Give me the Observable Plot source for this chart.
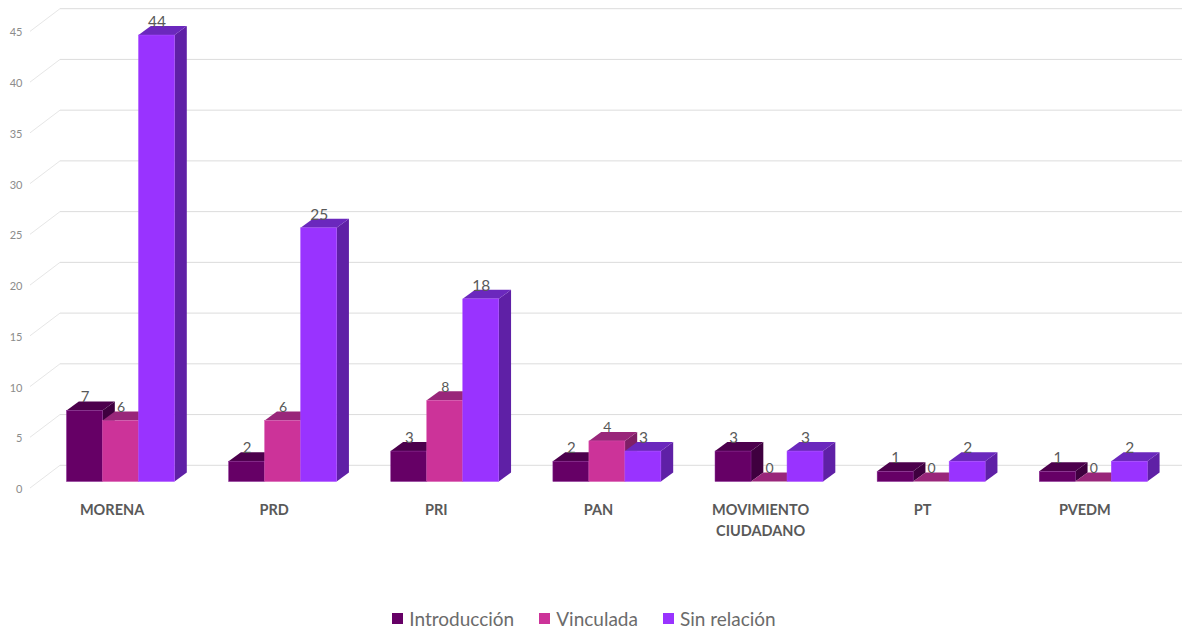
<!DOCTYPE html>
<html>
<head>
<meta charset="utf-8">
<script src="https://cdn.jsdelivr.net/npm/d3@7"></script>
<script src="https://cdn.jsdelivr.net/npm/@observablehq/plot@0.6"></script>
<style>
html,body{margin:0;padding:0;background:#fff;overflow:hidden;}
#chart svg{display:block;}
#legend{display:flex;justify-content:center;align-items:center;height:22px;margin-top:17px;margin-left:-14px;font-family:Lato,sans-serif;font-size:19px;color:#6b6b6b;}
#legend span.item{display:flex;align-items:center;margin:0 12.5px;}
#legend i{display:inline-block;width:11px;height:11px;margin-right:6px;}
</style>
</head>
<body>
<div id="chart"></div>
<div id="legend"></div>
<script>
const parties = ["MORENA", "PRD", "PRI", "PAN", "MOVIMIENTO\nCIUDADANO", "PT", "PVEDM"];
const seriesNames = ["Introducción", "Vinculada", "Sin relación"];
const introduccion = [7, 2, 3, 2, 3, 1, 1];
const vinculada = [6, 6, 8, 4, 0, 0, 0];
const sinRelacion = [44, 25, 18, 3, 3, 2, 2];
const frontColors = ["#660066", "#cc3399", "#9933ff"];
const edgeColors = ["#8a2a96", "#d655ad", "#a94dff"];
const topColors = ["#4c004c", "#99267a", "#6b28bd"];
const sideColors = ["#3f003f", "#7f1f66", "#5f20a6"];
const labelSizes = [15, 14, 15.5];
const yTicks = [0, 5, 10, 15, 20, 25, 30, 35, 40, 45];
const seriesValues = [introduccion, vinculada, sinRelacion];

const barWidth = 36, step = 162.13, groupPad = 27;
const depthX = 12.3, depthY = 9;

function walls(index, {x, y}) {
  const g = d3.create("svg:g");
  for (const t of yTicks) {
    const v = y(t);
    g.append("path").attr("d", `M30,${v + 6.5}L60,${v - 16.2}`).attr("fill", "none").attr("stroke", "#e6e6e6").attr("stroke-width", 1);
    g.append("path").attr("d", `M60,${v - 16.2}H1182`).attr("fill", "none").attr("stroke", "#dcdcdc").attr("stroke-width", 1);
  }
  return g.node();
}

function depthFaces(i) {
  return (index, {x, y}) => {
    const g = d3.create("svg:g");
    parties.forEach((p, j) => {
      const x0 = x(p) + groupPad + barWidth * i, x1 = x0 + barWidth;
      const yt = y(seriesValues[i][j]), yb = y(0);
      g.append("path").attr("fill", sideColors[i])
        .attr("d", `M${x1},${yt}L${x1 + depthX},${yt - depthY}V${yb - depthY}L${x1},${yb}Z`);
      g.append("path").attr("fill", topColors[i])
        .attr("d", `M${x0},${yt}L${x0 + depthX},${yt - depthY}H${x1 + depthX}L${x1},${yt}Z`);
    });
    return g.node();
  };
}

const marks = [walls];
seriesValues.forEach((vals, i) => {
  marks.push(depthFaces(i));
  marks.push(Plot.barY(parties, {
    x: d => d,
    y: (d, j) => vals[j],
    fill: frontColors[i],
    stroke: edgeColors[i],
    strokeWidth: 0.5,
    insetLeft: groupPad + barWidth * i,
    insetRight: step - groupPad - barWidth * (i + 1)
  }));
});
seriesValues.forEach((vals, i) => {
  marks.push(Plot.text(parties, {
    x: d => d,
    y: (d, j) => vals[j],
    text: (d, j) => String(vals[j]),
    dx: groupPad + barWidth * i + barWidth / 2 - step / 2,
    dy: -13.5,
    fontSize: labelSizes[i],
    fill: "#595959",
    fontFamily: "Lato, sans-serif"
  }));
});
marks.push(Plot.axisY(yTicks, {
  anchor: "left", tickSize: 0, tickPadding: 0, dx: 22, dy: 7.5,
  fontSize: 11, fill: "#8c8c8c", fontFamily: "Lato, sans-serif", label: null
}));
marks.push(Plot.axisX({
  anchor: "bottom", tickSize: 0, tickPadding: 18, dx: -9,
  fontSize: 14.5, fontWeight: "bold", fill: "#595959", fontFamily: "Lato, sans-serif",
  lineHeight: 1.45, label: null, lineWidth: Infinity, textOverflow: null
}));

const chart = Plot.plot({
  width: 1182,
  height: 590,
  marginLeft: 0, marginRight: 0, marginTop: 0, marginBottom: 108,
  style: {background: "#fff", overflow: "visible"},
  x: {type: "band", domain: parties, range: [39.5, 39.5 + step * 7], padding: 0, round: false},
  y: {domain: [0, 45], range: [481.5, 481.5 - 45 * 10.147]},
  marks
});
document.getElementById("chart").append(chart);

const legend = d3.select("#legend");
seriesNames.forEach((n, i) => {
  const it = legend.append("span").attr("class", "item");
  it.append("i").style("background", frontColors[i]);
  it.append("span").text(n);
});
</script>
</body>
</html>
